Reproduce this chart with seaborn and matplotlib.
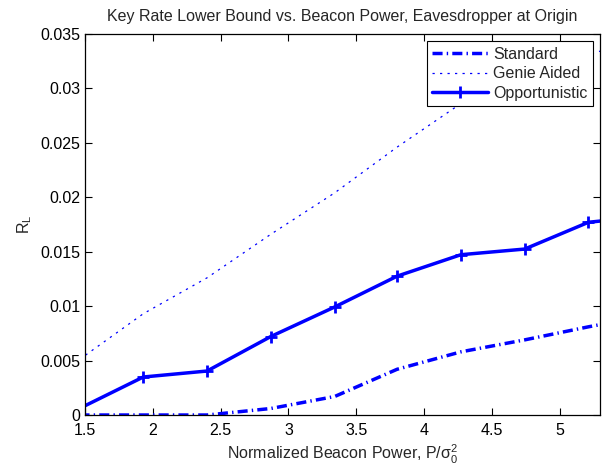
import numpy as np
import pandas as pd
import matplotlib
matplotlib.use("Agg")
import matplotlib.pyplot as plt
from matplotlib.ticker import FuncFormatter, MultipleLocator
import seaborn as sns

# values
beacon_power = [1.46, 1.93, 2.40, 2.87, 3.34, 3.80, 4.27, 4.74, 5.21, 5.68]
standard = [0.0, 0.0, 0.0, 0.0006, 0.0017, 0.0042, 0.0058, 0.0069, 0.0081, 0.0092]
genie_aided = [0.0051, 0.0093, 0.0126, 0.0166, 0.0204, 0.0246, 0.0286, 0.0312, 0.0331, 0.0348]
opportunistic = [0.0006, 0.00349, 0.00404, 0.00721, 0.00992, 0.01275, 0.01472, 0.01524, 0.0177, 0.0183]

sns.set_theme(style="white")
plt.rcParams['font.family'] = ['Liberation Sans', 'DejaVu Sans']
plt.rcParams['mathtext.fontset'] = 'custom'
plt.rcParams['mathtext.rm'] = 'Liberation Sans'
plt.rcParams['mathtext.it'] = 'Liberation Sans:italic'

fs = 11.5
fig, ax = plt.subplots(figsize=(6.02, 4.67), dpi=100)
fig.subplots_adjust(left=0.141, right=0.9967, bottom=0.1113, top=0.9275)

df = pd.DataFrame({'x': beacon_power, 'std': standard, 'genie': genie_aided, 'opp': opportunistic})

blue = '#0000ff'
sns.lineplot(data=df, x='x', y='std', ax=ax, color=blue, lw=2.5,
             linestyle=(0, (2.9, 1.2, 0.4, 1.2)), label='Standard')
sns.lineplot(data=df, x='x', y='genie', ax=ax, color=blue, lw=0.9,
             linestyle=(0, (1.8, 4.2)), label='Genie Aided')
sns.lineplot(data=df, x='x', y='opp', ax=ax, color=blue, lw=2.5,
             marker='+', markersize=9, markeredgewidth=2,
             markeredgecolor=blue, markerfacecolor=blue, label='Opportunistic')

ax.set_xlim(1.5, 5.295)
ax.set_ylim(0, 0.035)
ax.xaxis.set_major_locator(MultipleLocator(0.5))
ax.yaxis.set_major_locator(MultipleLocator(0.005))
fmt = FuncFormatter(lambda v, p: '%g' % round(v, 6))
ax.xaxis.set_major_formatter(fmt)
ax.yaxis.set_major_formatter(fmt)
ax.tick_params(direction='in', length=5, width=0.8, top=True, right=True,
               bottom=True, left=True, labelsize=fs, colors='black')
ax.tick_params(axis='x', pad=6)
ax.tick_params(axis='y', pad=3)
for s in ax.spines.values():
    s.set_color('black')
    s.set_linewidth(0.9)

ax.set_title('Key Rate Lower Bound vs. Beacon Power, Eavesdropper at Origin', fontsize=11.5, pad=9)
ax.set_xlabel(r'Normalized Beacon Power, P/$\mathregular{\sigma_0^2}$', fontsize=fs, labelpad=3)
ax.set_ylabel(r'$\mathregular{R_L}$', fontsize=fs, labelpad=5)

leg = ax.legend(loc='upper right', fontsize=fs, frameon=True, fancybox=False,
                edgecolor='black', framealpha=1, handlelength=3.5, handletextpad=0.3,
                borderaxespad=0.45, borderpad=0.35, labelspacing=0.28)
leg.get_frame().set_linewidth(0.8)

fig.savefig('out.png', dpi=100)
